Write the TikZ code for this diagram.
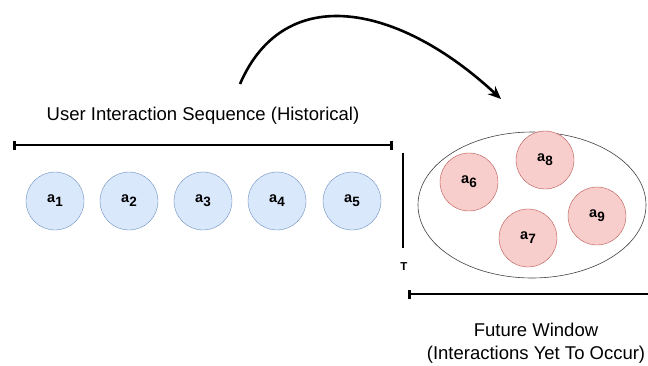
\documentclass[tikz,border=0pt]{standalone}
\usepackage{fontspec}
\setmainfont{Liberation Sans}
\usetikzlibrary{shapes.geometric,arrows.meta}
\definecolor{pastblue}{HTML}{DAE8FC}
\definecolor{pastblueline}{HTML}{6C8EBF}
\definecolor{futred}{HTML}{F8CECC}
\definecolor{futredline}{HTML}{B85450}
\newcommand{\actlabel}[1]{\fontsize{14.5}{16}\selectfont\textbf{a}\raisebox{-4pt}{\fontsize{13.5}{15}\selectfont\textbf{#1}}}
\tikzset{
    past/.style={circle, draw=pastblueline, fill=pastblue, minimum size=58pt, inner sep=0pt},
    future/.style={circle, draw=futredline, fill=futred, minimum size=58pt, inner sep=0pt},
    bracketbar/.style={line width=2.6pt},
    caption/.style={font=\fontsize{18.5}{23}\selectfont, align=center}
}
\begin{document}
\begin{tikzpicture}[x=1pt, y=-1pt]
    		\useasboundingbox (0,0) rectangle (648,365);
    		% History bar and its label:
    		\node[caption] (histlabel) at (203,116) {User Interaction Sequence (Historical)};
    		\coordinate (histL) at (13,145);
    		\coordinate (histR) at (393,145);
    		\draw[bracketbar, {Bar[width=9pt]}-{Bar[width=9pt]}] (histL) -- (histR);
    		% Past interactions:
    		\node[past] (a1) at (55,201) {\actlabel{1}};
    		\node[past] (a2) at (129,201) {\actlabel{2}};
    		\node[past] (a3) at (203,201) {\actlabel{3}};
    		\node[past] (a4) at (277,201) {\actlabel{4}};
    		\node[past] (a5) at (352,201) {\actlabel{5}};
    		% Cut at time T:
    		\coordinate (cutTop) at (403,153);
    		\coordinate (cutBot) at (403,248);
    		\draw[bracketbar] (cutTop) -- (cutBot);
    		\node[font=\fontsize{11.5}{13}\selectfont\bfseries] (tlabel) at (404,267) {T};
    		% Future window:
    		\node[ellipse, draw=black!75, line width=0.6pt, minimum width=228pt, minimum height=146pt] (window) at (532,205) {};
    		\node[future] (a6) at (469,182) {\actlabel{6}};
    		\node[future] (a8) at (545,160) {\actlabel{8}};
    		\node[future] (a9) at (597,216) {\actlabel{9}};
    		\node[future] (a7) at (528,238) {\actlabel{7}};
    		\coordinate (futL) at (408,294);
    		\coordinate (futR) at (648,294);
    		\draw[bracketbar, {Bar[width=9pt]}-] (futL) -- (futR);
    		\node[caption] (futlabel) at (536,343) {Future Window\\(Interactions Yet To Occur)};
    		% Prediction arrow:
    		\coordinate (arrowStart) at (240,84);
    		\coordinate (arrowEnd) at (501,99);
    		\draw[line width=2.6pt, -{Stealth[length=13pt, width=11pt]}] (arrowStart) .. controls (285,-20) and (400,5) .. (arrowEnd);
    	\end{tikzpicture}
\end{document}
